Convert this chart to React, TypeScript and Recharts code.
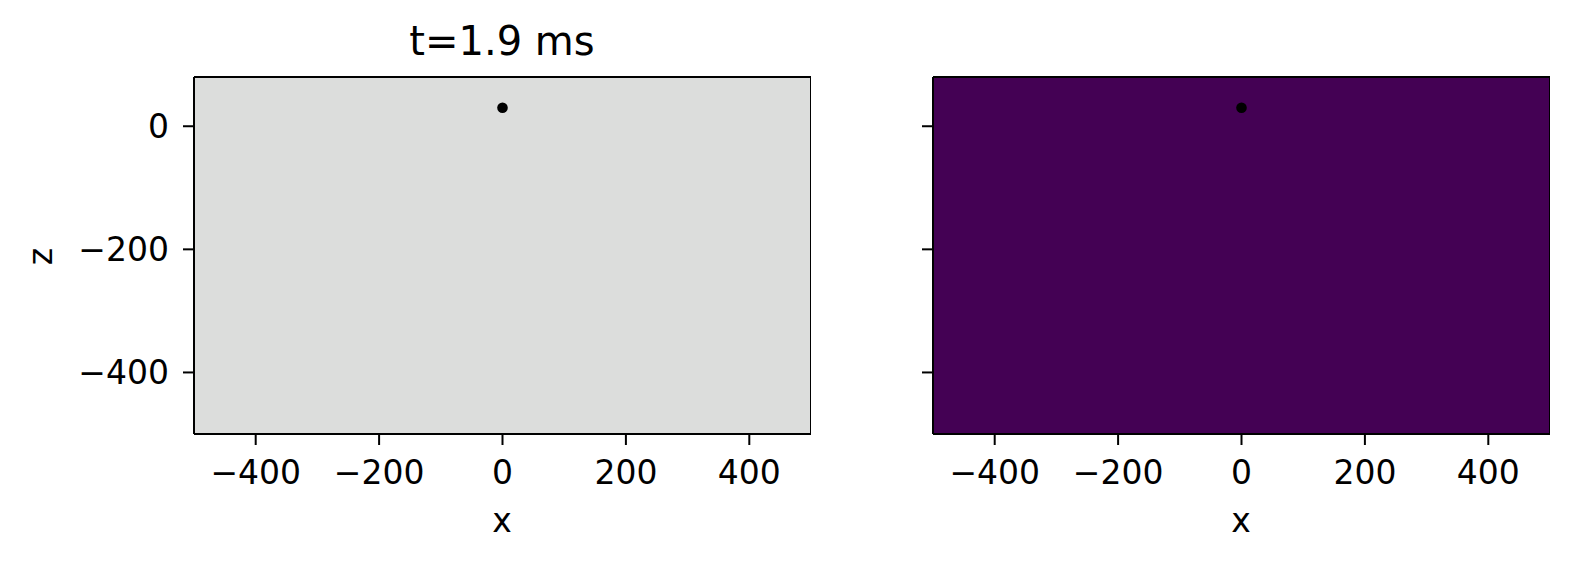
import * as React from "react";
import { ScatterChart, Scatter, XAxis, YAxis, CartesianGrid, ReferenceLine } from "recharts";

// axis limits and ticks
const xLimits = [-500, 500];
const zLimits = [-500, 80];
const xTicks = [-400, -200, 0, 200, 400];
const zTicks = [0, -200, -400];

// source position (same in both panels)
const sourceX = [0];
const sourceZ = [30];

const panelTitles = ["t=1.9 ms", ""];
const panelFills = ["#dcdddc", "#440154"];

const font = "DejaVu Sans, sans-serif";
const minus = (v: number) => (v < 0 ? "\u2212" + Math.abs(v) : String(v));

const sourceData = sourceX.map((x, i) => ({ x, z: sourceZ[i] }));

const SourceDot = (p: any) => <circle cx={p.cx} cy={p.cy} r={5.3} fill="#000" />;

function Panel({ idx, left, width, yAxisWidth, showZLabels }: any) {
  const tickStyle = { fill: "#000", fontSize: 33, fontFamily: font };
  const line = { stroke: "#000", strokeWidth: 2 };
  return (
    <div style={{ position: "absolute", left, top: 0, width, height: 565 }}>
      <ScatterChart width={width} height={565} margin={{ top: 77, right: 0, bottom: 0, left: 0 }}>
        <CartesianGrid horizontal={false} vertical={false} fill={panelFills[idx]} fillOpacity={1} />
        <XAxis
          dataKey="x"
          type="number"
          domain={xLimits}
          ticks={xTicks}
          interval={0}
          allowDataOverflow
          height={131}
          tickSize={11}
          tickMargin={16}
          tickFormatter={minus}
          tick={tickStyle}
          stroke="#000"
          strokeWidth={2}
          axisLine={line}
          tickLine={line}
        />
        <YAxis
          dataKey="z"
          type="number"
          domain={zLimits}
          ticks={zTicks}
          interval={0}
          allowDataOverflow
          width={yAxisWidth}
          tickSize={11}
          tickMargin={14}
          tickFormatter={showZLabels ? minus : () => ""}
          tick={tickStyle}
          stroke="#000"
          strokeWidth={2}
          axisLine={line}
          tickLine={line}
        />
        {/* frame: top and right edges */}
        <ReferenceLine y={zLimits[1]} stroke="#000" strokeWidth={2} />
        <ReferenceLine x={xLimits[1]} stroke="#000" strokeWidth={2} />
        <Scatter data={sourceData} fill="#000" shape={SourceDot} isAnimationActive={false} />
      </ScatterChart>
    </div>
  );
}

export default function App() {
  const label = { position: "absolute" as const, fontFamily: font, color: "#000", whiteSpace: "nowrap" as const };
  return (
    <div style={{ position: "absolute", left: 0, top: 0, width: 1573, height: 565, background: "#fff" }}>
      {/* left panel: plot 194..810 */}
      <Panel idx={0} left={0} width={811} yAxisWidth={194} showZLabels />
      {/* right panel: plot 933..1549 */}
      <Panel idx={1} left={850} width={700} yAxisWidth={83} showZLabels={false} />
      <div style={{ ...label, left: 302, width: 400, textAlign: "center", top: 21, fontSize: 40, lineHeight: "40px" }}>
        {panelTitles[0]}
      </div>
      <div style={{ ...label, left: 302, width: 400, textAlign: "center", top: 504, fontSize: 33, lineHeight: "33px" }}>x</div>
      <div style={{ ...label, left: 1041, width: 400, textAlign: "center", top: 504, fontSize: 33, lineHeight: "33px" }}>x</div>
      <div
        style={{
          ...label,
          left: 40 - 50,
          top: 256 - 16.5,
          width: 100,
          textAlign: "center",
          fontSize: 33,
          lineHeight: "33px",
          transform: "rotate(-90deg)",
        }}
      >
        z
      </div>
    </div>
  );
}
